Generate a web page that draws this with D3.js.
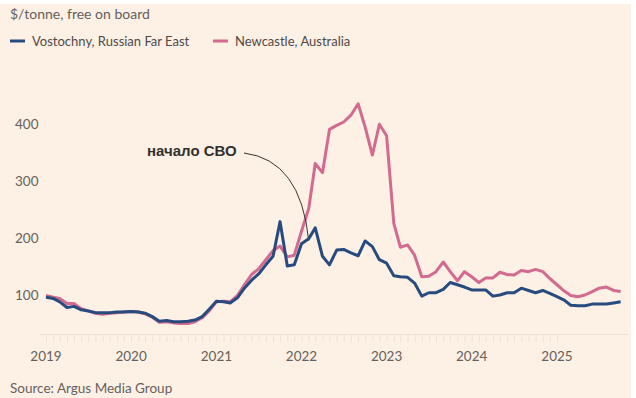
<!DOCTYPE html>
<html>
<head>
<meta charset="utf-8">
<script src="https://cdn.jsdelivr.net/npm/d3@7"></script>
<style>
  body { margin: 0; background: #ffffff; }
  svg { display: block; }
  .lbl { font-family: Lato, "Open Sans", sans-serif; fill: #66605c; }
</style>
</head>
<body>
<div id="chart"></div>
<script>
// monthly, Jan 2019 .. Oct 2025
var startYear = 2019;
var vostochny = [
  96, 94, 88, 78, 80, 74, 72, 69, 69, 69, 70, 70,
  71, 70, 68, 62, 54, 55, 53, 53, 54, 56, 62, 75,
  89, 88, 86, 95, 112, 126, 137, 153, 168, 229, 151, 153,
  190, 199, 218, 168, 153, 179, 180, 174, 169, 195, 185, 162,
  156, 134, 132, 131, 121, 98, 104, 104, 110, 122, 118, 114,
  109, 109, 109, 98, 100, 104, 104, 112, 108, 104, 108, 103,
  97, 91, 82, 81, 81, 84, 84, 84, 86, 88
];
var newcastle = [
  99, 96, 94, 85, 85, 76, 72, 68, 66, 68, 69, 70,
  71, 70, 67, 61, 52, 53, 51, 50, 50, 53, 60, 72,
  88, 89, 88, 99, 118, 136, 146, 162, 178, 186, 167, 170,
  212, 252, 331, 315, 391, 398, 404, 416, 436, 395, 346, 400,
  380, 226, 184, 188, 170, 132, 133, 141, 158, 141, 125, 141,
  132, 122, 130, 130, 140, 136, 135, 143, 141, 145, 141, 129,
  118, 107, 99, 97, 100, 106, 112, 114, 108, 106
];
var yTicks = [100, 200, 300, 400];
var xTickYears = [2019, 2020, 2021, 2022, 2023, 2024, 2025];
var seriesNames = ["Vostochny, Russian Far East", "Newcastle, Australia"];
var seriesColors = ["#274b7f", "#d36a8f"];

var svgWidth = 636;
var svgHeight = 398;

var svg = d3.select("#chart")
    .append("svg")
    .attr("width", svgWidth)
    .attr("height", svgHeight);

// FT paper background
svg.append("rect")
    .attr("x", 0).attr("y", 4)
    .attr("width", 631).attr("height", svgHeight - 4)
    .attr("fill", "#fdf0e5");

var months = vostochny.map((d, i) => new Date(startYear, i, 1));

var x = d3.scaleTime()
    .domain([new Date(2019, 0, 1), new Date(2025, 0, 1)])
    .range([46, 557]);

var y = d3.scaleLinear()
    .domain([100, 400])
    .range([295, 124.3]);

// faint bottom axis with monthly ticks
var xAxis = d3.axisBottom(x)
    .ticks(d3.timeMonth.every(1))
    .tickSize(8)
    .tickFormat("");
var axisG = svg.append("g")
    .attr("transform", "translate(0,334)")
    .call(xAxis);
axisG.select(".domain").attr("stroke", "#efe0d3").attr("d", "M40,0.5H628");
axisG.selectAll(".tick line").attr("stroke", "#f0e2d5");
axisG.selectAll(".tick")
    .filter(d => d > new Date(2025, 9, 1))
    .remove();

// year labels
svg.append("g").selectAll("text")
    .data(xTickYears)
    .enter()
    .append("text")
    .classed("lbl", true)
    .attr("x", d => x(new Date(d, 0, 1)))
    .attr("y", 361)
    .attr("text-anchor", "middle")
    .style("font-size", "13.5px")
    .text(d => d);

// y labels
svg.append("g").selectAll("text")
    .data(yTicks)
    .enter()
    .append("text")
    .classed("lbl", true)
    .attr("x", 15)
    .attr("y", d => y(d) + 5)
    .style("font-size", "13.5px")
    .text(d => d);

var line = d3.line()
    .x((d, i) => x(months[i]))
    .y(d => y(d))
    .curve(d3.curveLinear);

svg.append("path")
    .datum(newcastle)
    .attr("d", line)
    .attr("fill", "none")
    .attr("stroke", seriesColors[1])
    .attr("stroke-width", 3)
    .attr("stroke-linejoin", "round");

// annotation
svg.append("text")
    .attr("x", 147)
    .attr("y", 156)
    .style("font-family", "'Liberation Sans', Arial, sans-serif")
    .style("font-weight", "bold")
    .style("font-size", "15px")
    .attr("fill", "#33302e")
    .text("начало СВО");

var ax = x(new Date(2022, 1, 1));
svg.append("path")
    .attr("d", `M244,153 Q${ax - 8},160 ${ax},${y(vostochny[37]) + 2}`)
    .attr("fill", "none")
    .attr("stroke", "#3a3430")
    .attr("stroke-width", 1);

svg.append("path")
    .datum(vostochny)
    .attr("d", line)
    .attr("fill", "none")
    .attr("stroke", seriesColors[0])
    .attr("stroke-width", 3)
    .attr("stroke-linejoin", "round");

// title + legend
svg.append("text")
    .classed("lbl", true)
    .attr("x", 10)
    .attr("y", 19)
    .style("font-size", "14px")
    .text("$/tonne, free on board");

var legendX = [10, 213];
seriesNames.forEach((name, i) => {
    svg.append("line")
        .attr("x1", legendX[i]).attr("x2", legendX[i] + 15)
        .attr("y1", 41).attr("y2", 41)
        .attr("stroke", seriesColors[i])
        .attr("stroke-width", 3);
    svg.append("text")
        .classed("lbl", true)
        .attr("x", legendX[i] + 22)
        .attr("y", 46)
        .style("font-size", "13px")
        .style("fill", "#4f4a47")
        .text(name);
});

svg.append("text")
    .classed("lbl", true)
    .attr("x", 10)
    .attr("y", 393)
    .style("font-size", "13.5px")
    .text("Source: Argus Media Group");
</script>
</body>
</html>
